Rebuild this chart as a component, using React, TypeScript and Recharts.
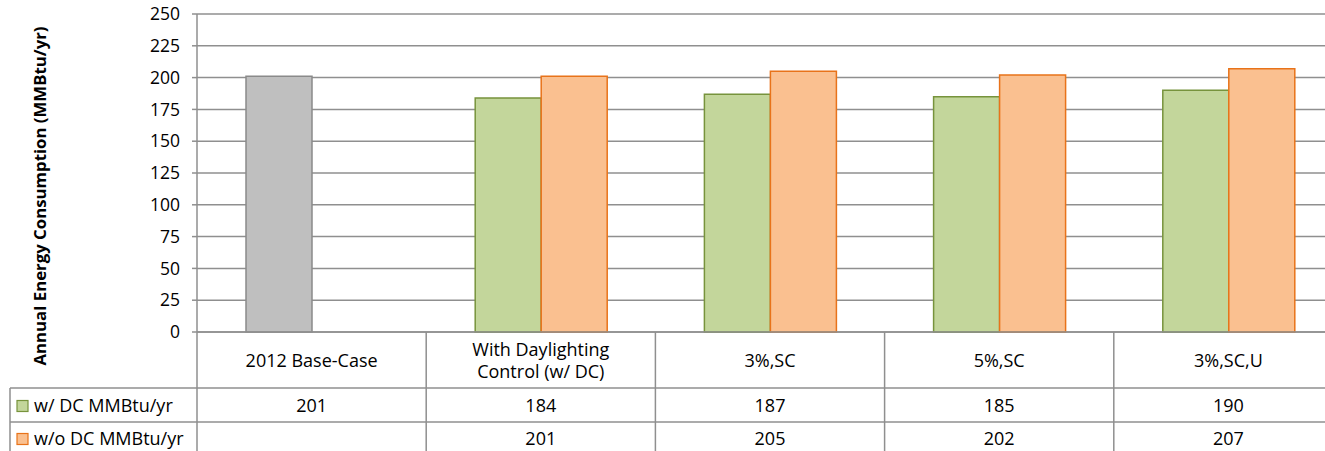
import { BarChart, Bar, XAxis, YAxis, CartesianGrid, Cell } from 'recharts';

const categories = ['2012 Base-Case', 'With Daylighting Control (w/ DC)', '3%,SC', '5%,SC', '3%,SC,U'];
const withDC = [201, 184, 187, 185, 190];
const withoutDC: (number | null)[] = [null, 201, 205, 202, 207];
const seriesNames = ['w/ DC MMBtu/yr', 'w/o DC MMBtu/yr'];
const yTicks = [0, 25, 50, 75, 100, 125, 150, 175, 200, 225, 250];
const yLabel = 'Annual Energy Consumption (MMBtu/yr)';

const data = categories.map((name, i) => ({ name, withDC: withDC[i], withoutDC: withoutDC[i] }));

const W = 1345;
const H = 451;
const LEFT = 197;
const RIGHT_PAD = 2;
const TOP = 14;
const X_AXIS_H = 119;
const PLOT_W = W - LEFT - RIGHT_PAD;
const ROW1 = 388;
const ROW2 = 422;
const TABLE_BOTTOM = 456;
const HEADER_LEFT = 10;

const LINE = '#8f8f8f';
const FONT = '"Open Sans", "Liberation Sans", sans-serif';
const FS = 18;

const GRAY = { fill: '#bfbfbf', stroke: '#8a8a8a' };
const GREEN = { fill: '#c3d69b', stroke: '#77933c' };
const ORANGE = { fill: '#fac090', stroke: '#e8731a' };

// greedy wrap so the long category name goes on two lines
function wrap(text: string, max = 18) {
  const words = text.split(' ');
  const lines: string[] = [];
  let cur = '';
  words.forEach((w) => {
    const next = cur ? cur + ' ' + w : w;
    if (next.length > max && cur) {
      lines.push(cur);
      cur = w;
    } else cur = next;
  });
  if (cur) lines.push(cur);
  return lines;
}

function fmt(v: number | null) {
  return v == null ? '' : String(v);
}

function CategoryTick(props: any) {
  const { x, y, payload } = props;
  const i = payload.index ?? props.index ?? 0;
  const w = PLOT_W / categories.length;
  const left = x - w / 2;
  const right = x + w / 2;
  const lines = wrap(String(payload.value));
  const midY = (y + ROW1) / 2 + 1;
  const lh = 22;
  const startY = midY - ((lines.length - 1) * lh) / 2;
  const r1 = (ROW1 + ROW2) / 2 + 1;
  const r2 = (ROW2 + TABLE_BOTTOM) / 2;
  return (
    <g>
      {lines.map((l, k) => (
        <text key={k} x={x} y={startY + k * lh} dy="0.35em" textAnchor="middle" fontSize={FS} fill="#000" fontFamily={FONT}>
          {l}
        </text>
      ))}
      <text x={x} y={r1} dy="0.35em" textAnchor="middle" fontSize={FS} fill="#000" fontFamily={FONT}>
        {fmt(withDC[i])}
      </text>
      <text x={x} y={r2} dy="0.35em" textAnchor="middle" fontSize={FS} fill="#000" fontFamily={FONT}>
        {fmt(withoutDC[i])}
      </text>
      <line x1={left} x2={right} y1={ROW1} y2={ROW1} stroke={LINE} strokeWidth={1.5} />
      <line x1={left} x2={right} y1={ROW2} y2={ROW2} stroke={LINE} strokeWidth={1.5} />
      <line x1={right} x2={right} y1={y} y2={TABLE_BOTTOM} stroke={LINE} strokeWidth={1.5} />
      {i === 0 && (
        <g>
          <line x1={left} x2={left} y1={y} y2={TABLE_BOTTOM} stroke={LINE} strokeWidth={1.5} />
          <line x1={HEADER_LEFT} x2={left} y1={ROW1} y2={ROW1} stroke={LINE} strokeWidth={1.5} />
          <line x1={HEADER_LEFT} x2={left} y1={ROW2} y2={ROW2} stroke={LINE} strokeWidth={1.5} />
          <line x1={HEADER_LEFT} x2={HEADER_LEFT} y1={ROW1} y2={TABLE_BOTTOM} stroke={LINE} strokeWidth={1.5} />
          {seriesNames.map((s, k) => {
            const cy = k === 0 ? r1 : r2;
            const c = k === 0 ? GREEN : ORANGE;
            return (
              <g key={s}>
                <rect x={17} y={cy - 5.5} width={11} height={11} fill={c.fill} stroke={c.stroke} strokeWidth={1.2} />
                <text x={34} y={cy} dy="0.35em" fontSize={FS} fill="#000" fontFamily={FONT}>
                  {s}
                </text>
              </g>
            );
          })}
        </g>
      )}
    </g>
  );
}

function ValueTick(props: any) {
  const { x, y, payload } = props;
  return (
    <text x={x} y={y} dy="0.35em" textAnchor="end" fontSize={17.5} fill="#000" fontFamily={FONT}>
      {payload.value}
    </text>
  );
}

function YTitle() {
  return (
    <text
      x={40}
      y={196}
      transform="rotate(-90 40 196)"
      textAnchor="middle"
      dy="0.35em"
      fontSize={16.8}
      fontWeight="bold"
      fill="#000"
      fontFamily={FONT}
    >
      {yLabel}
    </text>
  );
}

export default function App() {
  return (
    <div style={{ position: 'fixed', left: 0, top: 0, width: 1325, height: 451, overflow: 'hidden', background: '#fff' }}>
      <BarChart
        width={W}
        height={H}
        data={data}
        margin={{ top: TOP, right: RIGHT_PAD, left: 0, bottom: 0 }}
        barCategoryGap={49}
        barGap={0}
      >
        <CartesianGrid vertical={false} stroke={LINE} strokeWidth={1.5} />
        <XAxis
          dataKey="name"
          height={X_AXIS_H}
          interval={0}
          tickLine={false}
          tickSize={0}
          tickMargin={0}
          axisLine={{ stroke: LINE, strokeWidth: 1.5 }}
          tick={<CategoryTick />}
        />
        <YAxis
          width={LEFT}
          domain={[0, 250]}
          ticks={yTicks}
          interval={0}
          tickSize={5}
          tickMargin={12}
          tickLine={{ stroke: LINE, strokeWidth: 1.5 }}
          axisLine={{ stroke: LINE, strokeWidth: 1.5 }}
          tick={<ValueTick />}
          label={<YTitle />}
        />
        <Bar dataKey="withDC" fill={GREEN.fill} stroke={GREEN.stroke} strokeWidth={1.5} isAnimationActive={false}>
          {data.map((d, i) => (
            <Cell key={d.name} fill={i === 0 ? GRAY.fill : GREEN.fill} stroke={i === 0 ? GRAY.stroke : GREEN.stroke} />
          ))}
        </Bar>
        <Bar dataKey="withoutDC" fill={ORANGE.fill} stroke={ORANGE.stroke} strokeWidth={1.5} isAnimationActive={false} />
      </BarChart>
    </div>
  );
}
